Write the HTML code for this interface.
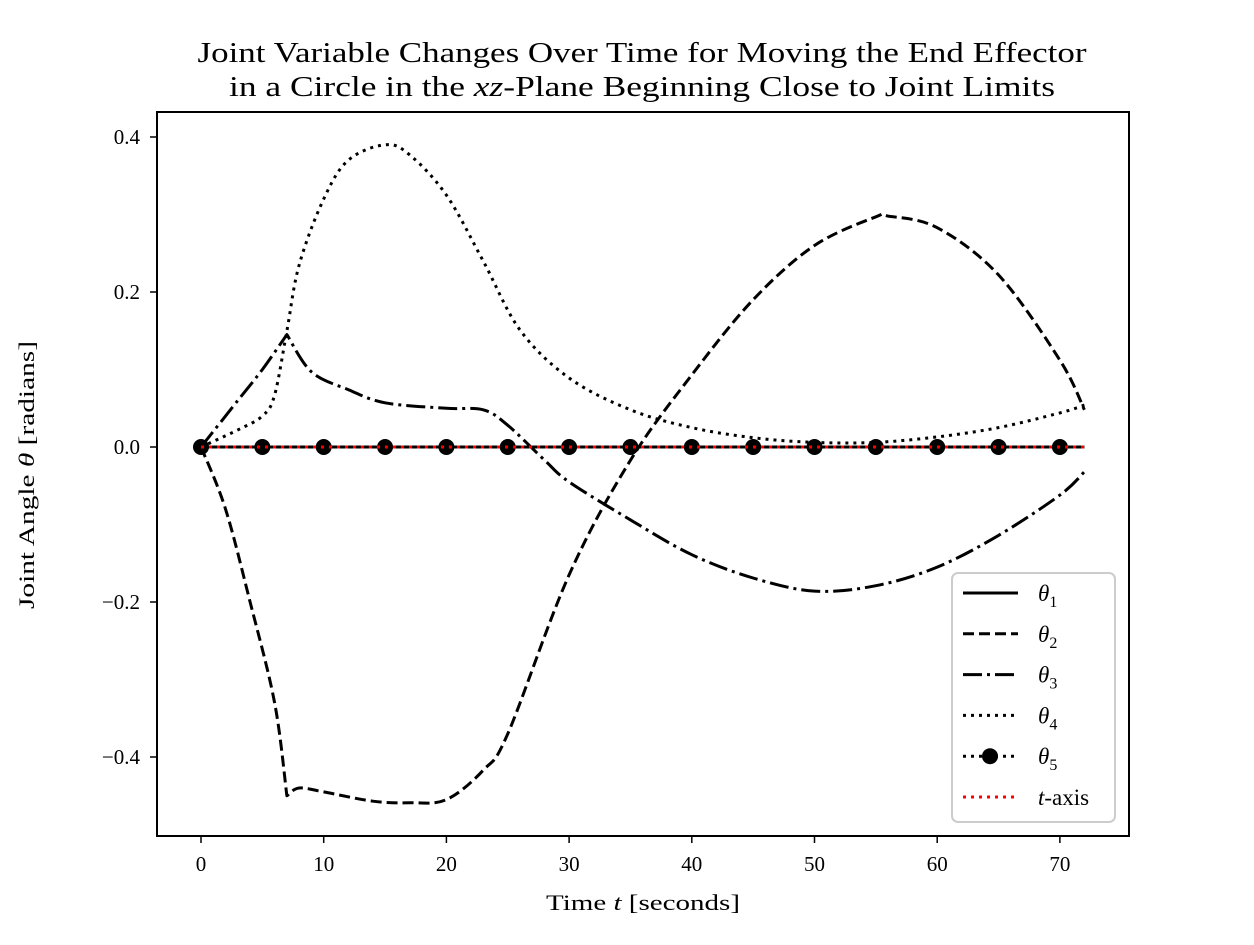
<!DOCTYPE html>
<html><head><meta charset="utf-8"><style>
body{margin:0;background:#fff;}
svg text{font-family:"Liberation Serif",serif;fill:#000;}
</style></head><body>
<svg id="chart" width="1254" height="940">
<text x="642" y="62" font-size="29" text-anchor="middle" textLength="889" lengthAdjust="spacingAndGlyphs">Joint Variable Changes Over Time for Moving the End Effector</text>
<text x="642" y="96" font-size="29" text-anchor="middle" textLength="826" lengthAdjust="spacingAndGlyphs">in a Circle in the <tspan font-style="italic">xz</tspan>-Plane Beginning Close to Joint Limits</text>
<g id="marks"></g>
<rect x="157" y="112" width="972" height="724" fill="none" stroke="#000" stroke-width="2"/>
<g id="axes"></g>
<text x="643" y="910" font-size="22" text-anchor="middle" textLength="194" lengthAdjust="spacingAndGlyphs">Time <tspan font-style="italic">t</tspan> [seconds]</text>
<text transform="translate(34,475) rotate(-90)" font-size="22" text-anchor="middle" textLength="268" lengthAdjust="spacingAndGlyphs">Joint Angle <tspan font-style="italic">θ</tspan> [radians]</text>
<g>
<rect x="952" y="573" width="163" height="249" rx="6" fill="#fff" stroke="#ccc" stroke-width="2"/>
<g id="legend"></g>
</g>
</svg>
<script>
const xTicks=[0,10,20,30,40,50,60,70];
const yTicks=[-0.4,-0.2,0.0,0.2,0.4];
const yTickLabels=["\u22120.4","\u22120.2","0.0","0.2","0.4"];
const t2=[0,2,4,6,7,8,10,14,17,20,23,25,30,35,40,45,50,55,56,60,65,70,72];
const theta2=[0,-0.08,-0.2,-0.33,-0.45,-0.44,-0.445,-0.457,-0.459,-0.455,-0.417,-0.37,-0.165,-0.017,0.093,0.19,0.26,0.297,0.298,0.283,0.222,0.112,0.048];
const t3=[0,3,5,7,9,12,15,20,23,25,28,30,35,40,45,50,55,60,65,70,72];
const theta3=[0,0.06,0.1,0.145,0.097,0.074,0.057,0.05,0.048,0.028,-0.017,-0.045,-0.094,-0.139,-0.169,-0.186,-0.179,-0.155,-0.114,-0.062,-0.032];
const t4=[0,3,5,6,7,8,10,12,15,17,20,23,26,30,35,40,45,50,55,60,65,70,72];
const theta4=[0,0.022,0.04,0.067,0.15,0.235,0.32,0.37,0.39,0.377,0.325,0.24,0.151,0.089,0.048,0.025,0.012,0.006,0.006,0.013,0.025,0.044,0.054];
const t1=[0,72];
const theta1=[0,0];
const t5=[0,5,10,15,20,25,30,35,40,45,50,55,60,65,70,72];
const theta5=[0,0,0,0,0,0,0,0,0,0,0,0,0,0,0,0];
const tAxis=[0,72];
const tAxisVals=[0,0];
const X=v=>201+v*12.27;
const Y=v=>447-v*775;
const NS="http://www.w3.org/2000/svg";
const marks=document.getElementById('marks'),axes=document.getElementById('axes'),leg=document.getElementById('legend');
function mk(tag,attrs,parent){const e=document.createElementNS(NS,tag);for(const k in attrs)e.setAttribute(k,attrs[k]);parent.appendChild(e);return e;}
function smoothPath(pts){let d='M'+pts[0][0].toFixed(1)+','+pts[0][1].toFixed(1);
for(let i=0;i<pts.length-1;i++){const p0=pts[i-1]||pts[i],p1=pts[i],p2=pts[i+1],p3=pts[i+2]||p2;
const c1=[p1[0]+(p2[0]-p0[0])/6,p1[1]+(p2[1]-p0[1])/6],c2=[p2[0]-(p3[0]-p1[0])/6,p2[1]-(p3[1]-p1[1])/6];
d+='C'+c1.map(v=>v.toFixed(1)).join(',')+' '+c2.map(v=>v.toFixed(1)).join(',')+' '+p2[0].toFixed(1)+','+p2[1].toFixed(1);}
return d;}
function line(ts,vs,dash,color,name,kink){const pts=ts.map((t,i)=>[X(t),Y(vs[i])]);
let d;const k=kink==null?-1:ts.indexOf(kink);
if(k>0){const a=smoothPath(pts.slice(0,k+1)),b=smoothPath(pts.slice(k));d=a+b.replace(/^M[^C]*/,'');}else d=smoothPath(pts);
const p=mk('path',{d:d,fill:'none',stroke:color,'stroke-width':3,'stroke-dasharray':dash,'stroke-linejoin':'round'},marks);

}
line(t1,theta1,'none','#000','theta1-line');
line(t2,theta2,'11,5','#000','theta2-line',7);
line(t3,theta3,'19,5,3,5','#000','theta3-line',7);
line(t4,theta4,'3,5','#000','theta4-line');
line(t5,theta5,'3,5','#000','theta5-line');
t5.forEach((t,i)=>{if(t%5===0&&t<=70){const c=mk('circle',{cx:X(t),cy:Y(theta5[i]),r:8,fill:'#000'},marks);

}});
line(tAxis,tAxisVals,'3,5','#f00','t-axis-line');
xTicks.forEach(v=>{const l=mk('line',{x1:X(v),x2:X(v),y1:836,y2:843,stroke:'#000','stroke-width':1.5},axes);


const tx=mk('text',{x:X(v),y:871,'font-size':21,'text-anchor':'middle'},axes);tx.textContent=v;

});
yTicks.forEach((v,i)=>{const l=mk('line',{x1:150,x2:157,y1:Y(v),y2:Y(v),stroke:'#000','stroke-width':1.5},axes);


const tx=mk('text',{x:140,y:Y(v)+7,'font-size':21,'text-anchor':'end'},axes);tx.textContent=yTickLabels[i];

});
const legItems=[['none','#000','θ','1'],['11,5','#000','θ','2'],['19,5,3,5','#000','θ','3'],['3,5','#000','θ','4'],['3,5','#000','θ','5'],['3,5','#f00','t','']];
legItems.forEach((it,i)=>{const y=593+i*40.8;
const l=mk('line',{x1:963,x2:1018,y1:y,y2:y,stroke:it[1],'stroke-width':3,'stroke-dasharray':it[0]},leg);


if(i===4){const c=mk('circle',{cx:990,cy:y,r:8,fill:'#000'},leg);

}
const tx=mk('text',{x:1038,y:y+8,'font-size':23},leg);


if(i<5){tx.innerHTML='<tspan font-style="italic">θ</tspan><tspan font-size="16" dy="6">'+it[3]+'</tspan>';}
else{tx.innerHTML='<tspan font-style="italic">t</tspan>-axis';}});
</script>
</body></html>
